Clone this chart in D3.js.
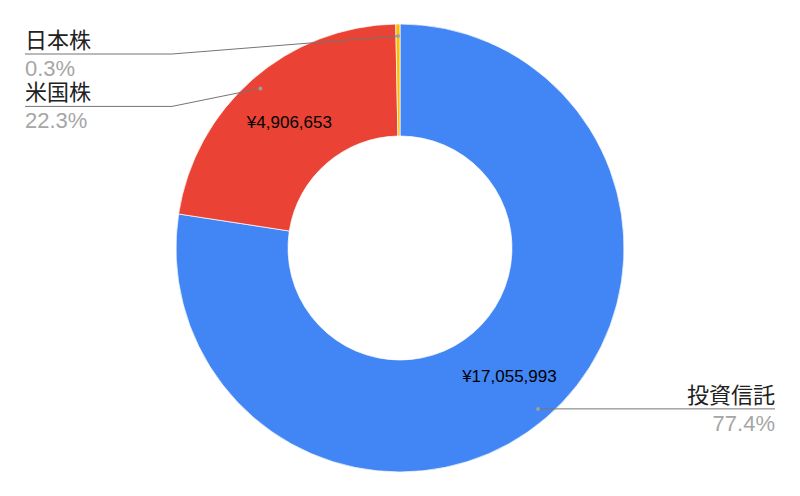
<!DOCTYPE html>
<html>
<head>
<meta charset="utf-8">
<script src="https://cdn.jsdelivr.net/npm/d3@7"></script>
<style>
  body { margin: 0; background: #fff; }
  text { font-family: "Liberation Sans", Arial, "Noto Sans CJK JP", sans-serif; }
</style>
</head>
<body>
<div id="chart-area"></div>
<script>
// data
const categories = ["投資信託", "米国株", "日本株"];
const values = [17055993, 4906653, 66000];
const colors = ["#4285F4", "#EA4335", "#FBBC04"];

const width = 800, height = 496;
const cx = 400, cy = 248;
const outerR = 224, innerR = 112;

const svg = d3.select("#chart-area")
    .append("svg")
    .attr("width", width)
    .attr("height", height);

const g = svg.append("g")
    .attr("transform", "translate(" + cx + "," + cy + ")");

const data = categories.map((c, i) => ({ name: c, value: values[i], color: colors[i] }));
const total = d3.sum(values);

const pie = d3.pie().sort(null).value(d => d.value);
const arcs = pie(data);

const arc = d3.arc().innerRadius(innerR).outerRadius(outerR);
const dotArc = d3.arc().innerRadius(212).outerRadius(212);

g.selectAll("path")
    .data(arcs)
    .join("path")
    .attr("d", arc)
    .attr("fill", d => d.data.color)
    .attr("stroke", "#fff")
    .attr("stroke-width", 0.7);

// value labels inside big enough slices
const yen = d3.format(",");
g.selectAll("text.val")
    .data(arcs.filter(d => d.endAngle - d.startAngle > 0.3))
    .join("text")
    .attr("class", "val")
    .attr("transform", d => "translate(" + arc.centroid(d) + ")")
    .attr("text-anchor", "middle")
    .attr("dy", "0.36em")
    .attr("font-size", 17)
    .attr("fill", "#000")
    .text(d => "¥" + yen(d.data.value));

// leader lines + legend labels
const pct = d3.format(".1%");
const leftX = 25, elbowX = 172, rightX = 775;

arcs.forEach(d => {
    const [px, py] = dotArc.centroid(d);
    const dotX = cx + px, dotY = cy + py;
    const left = px < 0;
    let lineY, pts;
    if (left) {
        lineY = dotY + 18;
        pts = [[dotX, dotY], [elbowX, lineY], [leftX, lineY]];
    } else {
        lineY = dotY;
        pts = [[dotX, dotY], [rightX, lineY]];
    }
    svg.append("path")
        .attr("d", d3.line()(pts))
        .attr("fill", "none")
        .attr("stroke", "#757575")
        .attr("stroke-width", 1);
    svg.append("circle")
        .attr("cx", dotX)
        .attr("cy", dotY)
        .attr("r", 2)
        .attr("fill", "#9e9e9e");
    const tx = left ? leftX : rightX;
    const anchor = left ? "start" : "end";
    svg.append("text")
        .attr("x", tx)
        .attr("y", lineY - 6)
        .attr("text-anchor", anchor)
        .attr("font-size", 22)
        .attr("fill", "#222")
        .text(d.data.name);
    svg.append("text")
        .attr("x", tx)
        .attr("y", lineY + 22)
        .attr("text-anchor", anchor)
        .attr("font-size", 22)
        .attr("fill", "#a6a6a6")
        .text(pct(d.data.value / total));
});
</script>
</body>
</html>
